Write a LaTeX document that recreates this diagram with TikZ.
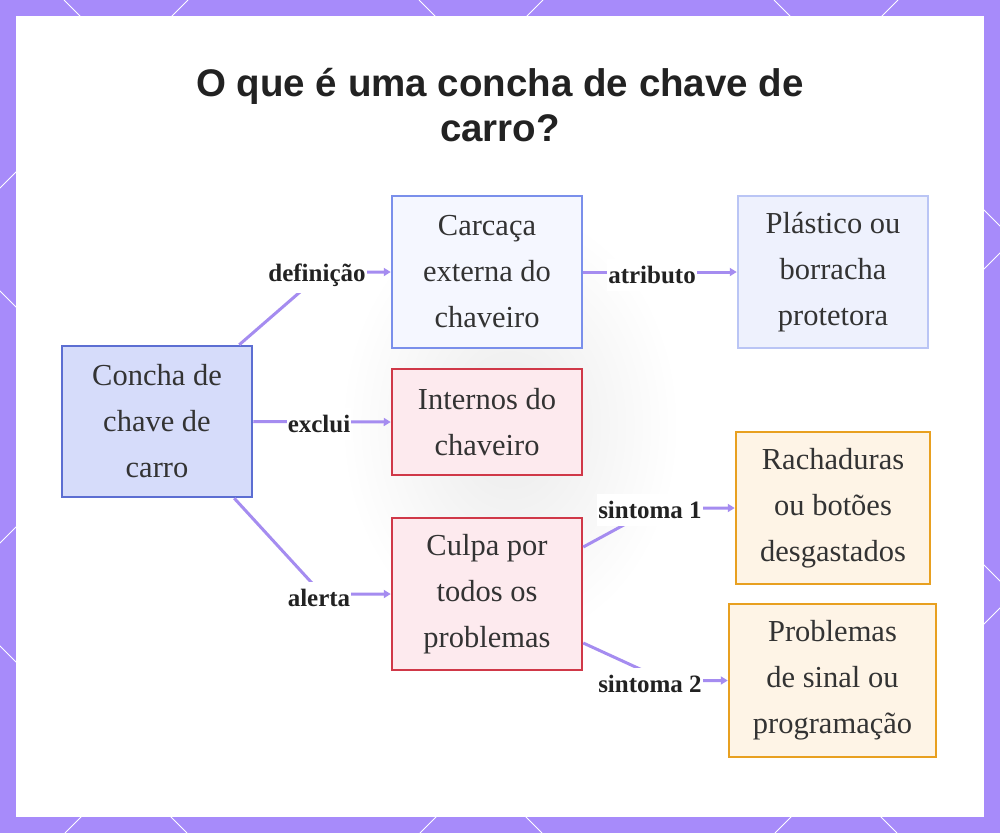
\documentclass[tikz,border=0pt]{standalone}
\usepackage{fontspec}
\setmainfont{Liberation Serif}
\newfontfamily\titlefont{Liberation Sans}
\usetikzlibrary{arrows.meta,calc}
\definecolor{framec}{RGB}{167,139,250}
\definecolor{edgec}{RGB}{165,140,240}
\definecolor{txt}{RGB}{51,51,51}
\definecolor{lbltxt}{RGB}{34,34,34}
\definecolor{aFill}{RGB}{214,220,250}
\definecolor{aDraw}{RGB}{92,110,210}
\definecolor{bFill}{RGB}{245,247,255}
\definecolor{bDraw}{RGB}{122,143,235}
\definecolor{cFill}{RGB}{238,241,253}
\definecolor{cDraw}{RGB}{186,197,245}
\definecolor{rFill}{RGB}{253,234,238}
\definecolor{rDraw}{RGB}{208,56,72}
\definecolor{oFill}{RGB}{254,244,230}
\definecolor{oDraw}{RGB}{232,160,32}
\tikzset{
  box/.style={draw, line width=2.5pt, align=center, inner sep=0pt, text=txt,
    font=\fontsize{30.5}{46}\selectfont},
  lbl/.style={fill=white, text=lbltxt, font=\bfseries\fontsize{25}{28}\selectfont,
    inner xsep=1pt, inner ysep=7pt},
  conn/.style={draw=edgec, line width=3pt, -{Triangle[length=7pt,width=8pt]}},
  frameline/.style={draw=white, line width=1pt}
}
\begin{document}
\begin{tikzpicture}[x=1pt,y=-1pt]
\useasboundingbox (0,0) rectangle (1000,833);
% frame
\fill[framec] (0,0) rectangle (1000,833);
\begin{scope}
\clip (0,0) rectangle (1000,833);
\foreach \c in {-1001,-646,-291,64,419,774}
  \draw[frameline] (\c,0) -- (\c+833,833);
\foreach \c in {188,543,898,1253,1608,1963}
  \draw[frameline] (\c,0) -- (\c-833,833);
\end{scope}
\fill[white] (16,16) rectangle (984,817);
\shade[inner color=black!8, outer color=white] (510,425) ellipse (170 and 220);
% title
\node[font=\titlefont\bfseries\fontsize{38.5}{45}\selectfont, text=lbltxt, align=center] (title) at (500,105)
  {O que é uma concha de chave de\\carro?};
% nodes
\node[box, draw=aDraw, fill=aFill, minimum width=190pt, minimum height=151pt] (A) at (157,421.5) {Concha de\\chave de\\carro};
\node[box, draw=bDraw, fill=bFill, minimum width=190pt, minimum height=152pt] (B) at (487,272) {Carcaça\\externa do\\chaveiro};
\node[box, draw=cDraw, fill=cFill, minimum width=190pt, minimum height=152pt] (C) at (833,272) {Plástico ou\\borracha\\protetora};
\node[box, draw=rDraw, fill=rFill, minimum width=190pt, minimum height=106pt] (D) at (487,422) {Internos do\\chaveiro};
\node[box, draw=rDraw, fill=rFill, minimum width=190pt, minimum height=152pt] (E) at (487,594) {Culpa por\\todos os\\problemas};
\node[box, draw=oDraw, fill=oFill, minimum width=194pt, minimum height=152pt] (F) at (833,508) {Rachaduras\\ou botões\\desgastados};
\node[box, draw=oDraw, fill=oFill, minimum width=207pt, minimum height=153pt] (G) at (832.5,680.5) {Problemas\\de sinal ou\\programação};
% bends
\coordinate (ab) at (323,272);
\coordinate (ae) at (322,594);
\coordinate (ef) at (655,508);
\coordinate (eg) at (665,680.5);
% connectors
\draw[conn] ($(A.north east)+(-14,0)$) -- (ab) -- (B.west);
\draw[conn] (A.east) -- (D.west);
\draw[conn] ($(A.south east)+(-19,0)$) -- (ae) -- (E.west);
\draw[conn] (B.east) -- (C.west);
\draw[conn] ($(E.east)+(0,-47)$) -- (ef) -- (F.west);
\draw[conn] ($(E.east)+(0,49)$) -- (eg) -- (G.west);
% labels
\node[lbl] (l1) at (317,275) {definição};
\node[lbl] (l2) at (319,424) {exclui};
\node[lbl] (l3) at (319,598) {alerta};
\node[lbl] (l4) at (652,275) {atributo};
\node[lbl] (l5) at (650,510) {sintoma 1};
\node[lbl] (l6) at (650,684) {sintoma 2};
\end{tikzpicture}
\end{document}
